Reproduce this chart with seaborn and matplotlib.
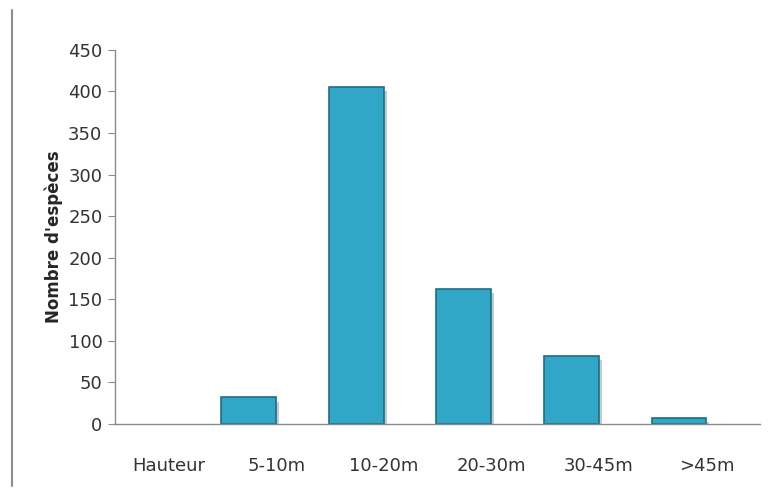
import matplotlib.pyplot as plt
import matplotlib.patheffects as pe
from matplotlib.lines import Line2D
import seaborn as sns
import pandas as pd

# Categories and species counts
categories = ['Hauteur', '5-10m', '10-20m', '20-30m', '30-45m', '>45m']
counts = [0, 32, 405, 162, 82, 7]
# the original chart keeps room for an empty second series in each slot
empty_series = [0, 0, 0, 0, 0, 0]

df = pd.DataFrame({
    'Hauteur': categories * 2,
    'Nombre': counts + empty_series,
    'Serie': ['espèces'] * len(categories) + ['vide'] * len(categories),
})

sns.set_style('white')
plt.rcParams['font.family'] = ['Liberation Sans Narrow', 'DejaVu Sans']

fig = plt.figure(figsize=(7.71, 4.93), dpi=100)
ax = fig.add_axes([0.149, 0.14, 0.837, 0.759])

sns.barplot(data=df, x='Hauteur', y='Nombre', hue='Serie',
            palette=['#32A6C6', '#32A6C6'], saturation=1, dodge=True,
            width=1.02, edgecolor='#1E6E84', linewidth=1.2, legend=False, ax=ax)
for p in ax.patches:
    if p.get_height() == 0:
        p.set_visible(False)
        continue
    p.set_path_effects([pe.SimplePatchShadow(offset=(2, -3), alpha=0.25),
                        pe.Normal()])

ax.set_ylim(0, 450)
ax.set_yticks(range(0, 451, 50))
ax.set_xlim(-0.5, 5.5)
ax.set_xlabel('')
ax.set_ylabel("Nombre d'espèces", fontsize=12, fontweight='bold',
              family=['DejaVu Sans'], labelpad=4)
ax.tick_params(axis='y', which='both', left=True, length=5, width=0.8,
               color='#8c8c8c', labelsize=13, labelcolor='#333333', pad=4)
ax.tick_params(axis='x', bottom=False, labelsize=13, labelcolor='#333333', pad=20)

for side in ['top', 'right']:
    ax.spines[side].set_visible(False)
for side in ['left', 'bottom']:
    ax.spines[side].set_color('#8c8c8c')
    ax.spines[side].set_linewidth(1)

# Frame line on the far left
fig.add_artist(Line2D([0.016, 0.016], [0.015, 0.98], color='#8c8c8c', linewidth=1.5))

fig.savefig('out.png', dpi=100)
